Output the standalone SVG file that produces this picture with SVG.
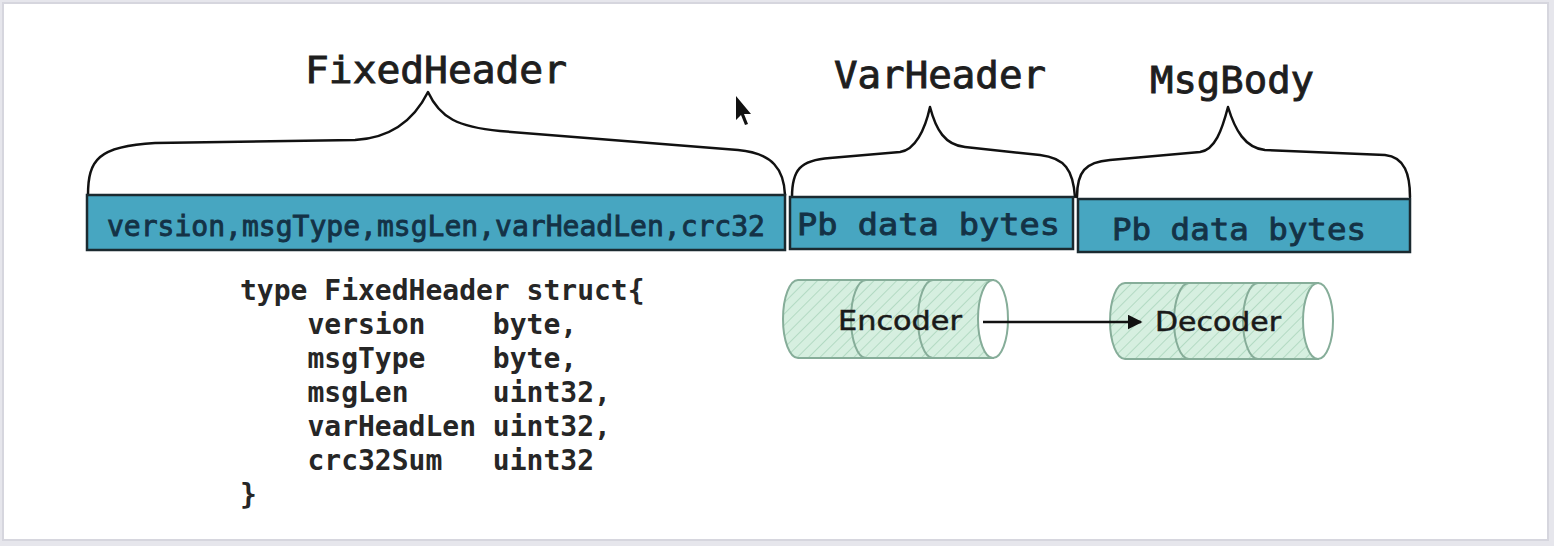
<svg xmlns="http://www.w3.org/2000/svg" width="1554" height="546" viewBox="0 0 1554 546">
<style>
.title{font-family:"DejaVu Sans Mono","Liberation Mono",monospace;font-size:38px;fill:#1e1e1e;stroke:#1e1e1e;stroke-width:0.9;}
.cell{fill:#47a6c1;stroke:#1b2a30;stroke-width:2.5;}
.celltxt{font-family:"DejaVu Sans Mono","Liberation Mono",monospace;fill:#143246;stroke:#143246;stroke-width:0.9;}
.brace{fill:none;stroke:#111;stroke-width:2.5;stroke-linecap:round;stroke-linejoin:round;}
.code{font-family:"DejaVu Sans Mono","Liberation Mono",monospace;font-weight:bold;font-size:28px;fill:#262626;}
.cyl{fill:url(#hatch);stroke:#86ad99;stroke-width:2;}
.cylend{fill:#ffffff;stroke:#86ad99;stroke-width:2;}
.div{fill:none;stroke:#86ad99;stroke-width:2;}
.hand{font-family:"DejaVu Sans","Liberation Sans",sans-serif;font-size:26px;fill:#1a1a1a;stroke:#1a1a1a;stroke-width:0.5;}
</style>
<defs>
<pattern id="hatch" patternUnits="userSpaceOnUse" width="8" height="8" patternTransform="rotate(45)">
<rect width="8" height="8" fill="#d6efe0"/>
<line x1="0" y1="0" x2="0" y2="8" stroke="#b3dac3" stroke-width="2"/>
</pattern>
<marker id="arr" viewBox="0 0 10 10" refX="9" refY="5" markerWidth="6" markerHeight="6" orient="auto" markerUnits="strokeWidth">
<path d="M0,0 L10,5 L0,10 z" fill="#111"/>
</marker>
</defs>
<rect x="0" y="0" width="1554" height="546" fill="#e6e6ec"/>
<rect x="3" y="3" width="1545" height="537" fill="#ffffff" stroke="#d6d6de" stroke-width="2"/>

<g id="fixedheader">
<path class="brace" d="M88 195 C88 160 98 146 155 143 L355 140 C392 138 414 120 428 92 C440 118 458 127 500 131 L738 150 C773 153 784 170 785 195"/>
<text class="title" x="436" y="83" text-anchor="middle" textLength="262" lengthAdjust="spacingAndGlyphs">FixedHeader</text>
<rect class="cell" x="87" y="195" width="698" height="55"/>
<text class="celltxt" x="107" y="236" font-size="28" textLength="658" lengthAdjust="spacingAndGlyphs">version,msgType,msgLen,varHeadLen,crc32</text>
</g>

<g id="varheader">
<path class="brace" d="M792 197 C792 170 800 160 830 158 L900 152 C915 150 925 130 930 107 C936 130 945 145 965 147 L1040 155 C1065 158 1073 170 1075 197"/>
<text class="title" x="940" y="88" text-anchor="middle" textLength="212" lengthAdjust="spacingAndGlyphs">VarHeader</text>
<rect class="cell" x="790" y="197" width="283" height="52"/>
<text class="celltxt" x="797" y="235" font-size="31" textLength="263" lengthAdjust="spacingAndGlyphs">Pb data bytes</text>
</g>

<g id="msgbody">
<path class="brace" d="M1077 197 C1077 172 1085 162 1110 160 L1200 152 C1215 150 1222 130 1228 107 C1235 130 1245 148 1265 150 L1385 155 C1405 157 1410 175 1410 197"/>
<text class="title" x="1232" y="93" text-anchor="middle" textLength="164" lengthAdjust="spacingAndGlyphs">MsgBody</text>
<rect class="cell" x="1078" y="199" width="332" height="53"/>
<text class="celltxt" x="1112" y="240" font-size="31" textLength="254" lengthAdjust="spacingAndGlyphs">Pb data bytes</text>
</g>

<g id="struct">
<text class="code" xml:space="preserve"><tspan x="240" y="300">type FixedHeader struct{</tspan><tspan x="240" y="334">    version    byte,</tspan><tspan x="240" y="368">    msgType    byte,</tspan><tspan x="240" y="402">    msgLen     uint32,</tspan><tspan x="240" y="436">    varHeadLen uint32,</tspan><tspan x="240" y="470">    crc32Sum   uint32</tspan><tspan x="240" y="504">}</tspan></text>
</g>

<g id="encoder">
<path class="cyl" d="M798 280 L993 280 L993 358 L798 358 A15 39 0 0 1 798 280 Z"/>
<path class="div" d="M866 280 A15 39 0 0 0 866 358"/>
<path class="div" d="M933 280 A15 39 0 0 0 933 358"/>
<ellipse class="cylend" cx="993" cy="319" rx="15" ry="39"/>
<text class="hand" x="900" y="330" text-anchor="middle" textLength="124" lengthAdjust="spacingAndGlyphs">Encoder</text>
</g>

<g id="decoder">
<path class="cyl" d="M1125 283 L1318 283 L1318 359 L1125 359 A15 38 0 0 1 1125 283 Z"/>
<path class="div" d="M1189 283 A15 38 0 0 0 1189 359"/>
<path class="div" d="M1258 283 A15 38 0 0 0 1258 359"/>
<ellipse class="cylend" cx="1318" cy="321" rx="15" ry="38"/>
<text class="hand" x="1218" y="331" text-anchor="middle" textLength="126" lengthAdjust="spacingAndGlyphs">Decoder</text>
</g>

<g id="connectors">
<line x1="983" y1="322" x2="1141" y2="322" stroke="#111" stroke-width="2.5" marker-end="url(#arr)"/>
</g>

<g id="cursor">
<path d="M736 96 L736 120 L741 115 L745 125 L748 124 L744 114 L751 114 Z" fill="#111"/>
</g>
</svg>
